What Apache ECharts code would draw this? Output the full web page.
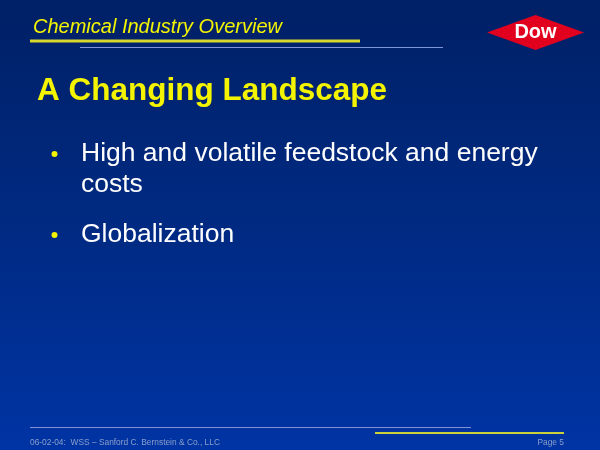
<!DOCTYPE html>
<html>
<head>
<meta charset="utf-8">
<script src="https://cdn.jsdelivr.net/npm/echarts@6/dist/echarts.min.js"></script>
<style>
  html, body { margin: 0; padding: 0; }
  #slide { width: 600px; height: 450px; }
</style>
</head>
<body>
<div id="slide"></div>
<script>
// slide texts
const headerTitle = 'Chemical Industry Overview';
const slideTitle = 'A Changing Landscape';
const bullets = [
  ['High and volatile feedstock and energy', 'costs'],
  ['Globalization']
];
const footerText = '06-02-04:  WSS \u2013 Sanford C. Bernstein & Co., LLC';
const pageLabel = 'Page 5';
const logoText = 'Dow';

const FONT = '"Liberation Sans", Arial, sans-serif';
const YELLOW = '#f4f400';

function text(x, y, str, font, fill, align) {
  return {
    type: 'text',
    style: {
      x: x, y: y, text: str, font: font, fill: fill,
      align: align || 'left', verticalAlign: 'middle'
    }
  };
}

function line(x1, y1, x2, y2, stroke, width) {
  return {
    type: 'line',
    shape: { x1: x1, y1: y1, x2: x2, y2: y2 },
    style: { stroke: stroke, lineWidth: width }
  };
}

const elements = [];

// background
elements.push({
  type: 'rect',
  z: -10,
  shape: { x: 0, y: 0, width: 600, height: 450 },
  style: {
    fill: new echarts.graphic.LinearGradient(0, 0, 0, 1, [
      { offset: 0, color: '#002066' },
      { offset: 0.5, color: '#002a82' },
      { offset: 1, color: '#0034a4' }
    ])
  }
});

// header
elements.push(text(33, 27, headerTitle, 'italic 20px ' + FONT, YELLOW));
elements.push(line(30, 41, 360, 41, '#d8d82c', 3));
elements.push(line(80, 47.5, 443, 47.5, '#8096d8', 1));

// logo
elements.push({
  type: 'polygon',
  shape: { points: [[487, 32.5], [535.5, 15], [584, 32.5], [535.5, 50]] },
  style: { fill: '#e2001f' }
});
elements.push(text(535.5, 32, logoText, 'bold 20px ' + FONT, '#ffffff', 'center'));

// title
elements.push(text(37, 91, slideTitle, 'bold 31.5px ' + FONT, YELLOW));

// bullets
let y = 154;
bullets.forEach(function (b) {
  elements.push({
    type: 'circle',
    shape: { cx: 54.5, cy: y, r: 3 },
    style: { fill: YELLOW }
  });
  b.forEach(function (ln) {
    elements.push(text(81, y, ln, '26.5px ' + FONT, '#ffffff'));
    y += 31;
  });
  y += 19;
});

// footer
elements.push(line(30, 427.5, 471, 427.5, '#7e93d6', 1));
elements.push(line(375, 433, 564, 433, '#c9d23a', 2));
elements.push(text(30, 442.5, footerText, '8.4px ' + FONT, '#8c9fcc'));
elements.push(text(564, 442.5, pageLabel, '8.4px ' + FONT, '#8c9fcc', 'right'));

const chart = echarts.init(document.getElementById('slide'));
chart.setOption({
  animation: false,
  graphic: { elements: elements }
});
</script>
</body>
</html>
